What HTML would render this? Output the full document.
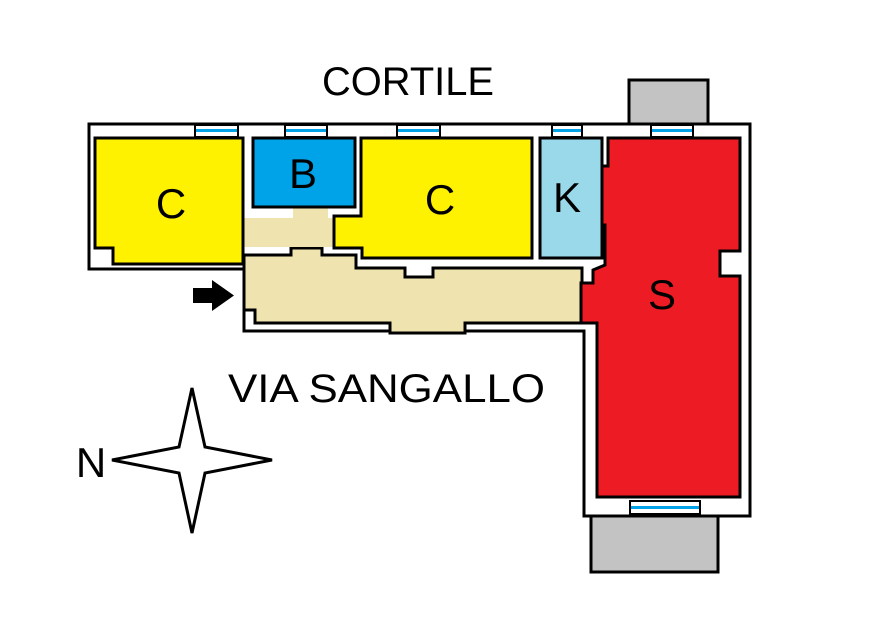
<!DOCTYPE html>
<html><head><meta charset="utf-8"><style>
html,body{margin:0;padding:0;background:#fff;}
svg{display:block;}
text{font-family:"Liberation Sans",sans-serif;fill:#000;}
</style></head><body>
<svg width="869" height="617" viewBox="0 0 869 617" xmlns="http://www.w3.org/2000/svg">
<rect width="869" height="617" fill="#fff"/>
<rect x="629" y="80" width="79" height="44" fill="#c3c3c3" stroke="#000" stroke-width="3"/>
<rect x="591" y="515" width="127" height="57" fill="#c3c3c3" stroke="#000" stroke-width="3"/>
<polygon points="89,124 750,124 750,516 584,516 584,331 244,331 244,269 89,269" fill="#fff" stroke="#000" stroke-width="3"/>
<polygon points="244,255 291,255 291,248 322,248 322,255 356,255 356,268 405,268 405,277 433,277 433,268 582,268 582,323 465,323 465,333 390,333 390,323 255,323 255,310 244,310" fill="#efe4b0" stroke="#000" stroke-width="3"/>
<rect x="244" y="218" width="90" height="29" fill="#efe4b0"/>
<rect x="293" y="207" width="35" height="14" fill="#efe4b0"/>
<polygon points="95,138 243,138 243,264 113,264 113,248 95,248" fill="#fff200" stroke="#000" stroke-width="3"/>
<rect x="253" y="138" width="102" height="69" fill="#00a2e8" stroke="#000" stroke-width="3"/>
<polygon points="361,138 532,138 532,258 362,258 362,248 334,248 334,216 361,216" fill="#fff200" stroke="#000" stroke-width="3"/>
<rect x="540" y="138" width="62" height="120" fill="#99d9ea" stroke="#000" stroke-width="3"/>
<polygon points="608,138 740,138 740,251 720,251 720,276 740,276 740,497 597,497 597,323 581,323 581,283 593,283 593,270 605,265 605,225 602,225 602,166 608,166" fill="#ed1c24" stroke="#000" stroke-width="3"/>
<g stroke="#000" stroke-width="2" fill="#fff">
<rect x="195" y="125" width="43" height="12"/>
<rect x="285" y="125" width="42" height="12"/>
<rect x="397" y="125" width="43" height="12"/>
<rect x="552" y="125" width="30" height="12"/>
<rect x="651" y="125" width="42" height="12"/>
<rect x="630" y="501" width="70" height="13"/>
</g>
<g fill="#00a2e8">
<rect x="196" y="129" width="41" height="3"/>
<rect x="286" y="129" width="40" height="3"/>
<rect x="398" y="129" width="41" height="3"/>
<rect x="553" y="129" width="28" height="3"/>
<rect x="652" y="129" width="40" height="3"/>
<rect x="631" y="506" width="68" height="3"/>
</g>
<text x="322" y="95" font-size="40" textLength="172" lengthAdjust="spacingAndGlyphs">CORTILE</text>
<text x="228" y="402" font-size="40" textLength="317" lengthAdjust="spacingAndGlyphs">VIA SANGALLO</text>
<text x="171" y="218" font-size="42" text-anchor="middle">C</text>
<text x="303" y="188" font-size="42" text-anchor="middle">B</text>
<text x="440" y="214" font-size="42" text-anchor="middle">C</text>
<text x="567" y="212" font-size="42" text-anchor="middle">K</text>
<text x="662" y="309" font-size="42" text-anchor="middle">S</text>
<text x="91" y="477" font-size="42" text-anchor="middle">N</text>
<rect x="193" y="288" width="20" height="15" fill="#000"/>
<polygon points="212,280 234,295.5 212,311" fill="#000"/>
<polygon points="192,388 205,447 272,460 205,473 192,533 179,473 112,460 179,447" fill="#fff" stroke="#000" stroke-width="3"/>
</svg>
</body></html>
